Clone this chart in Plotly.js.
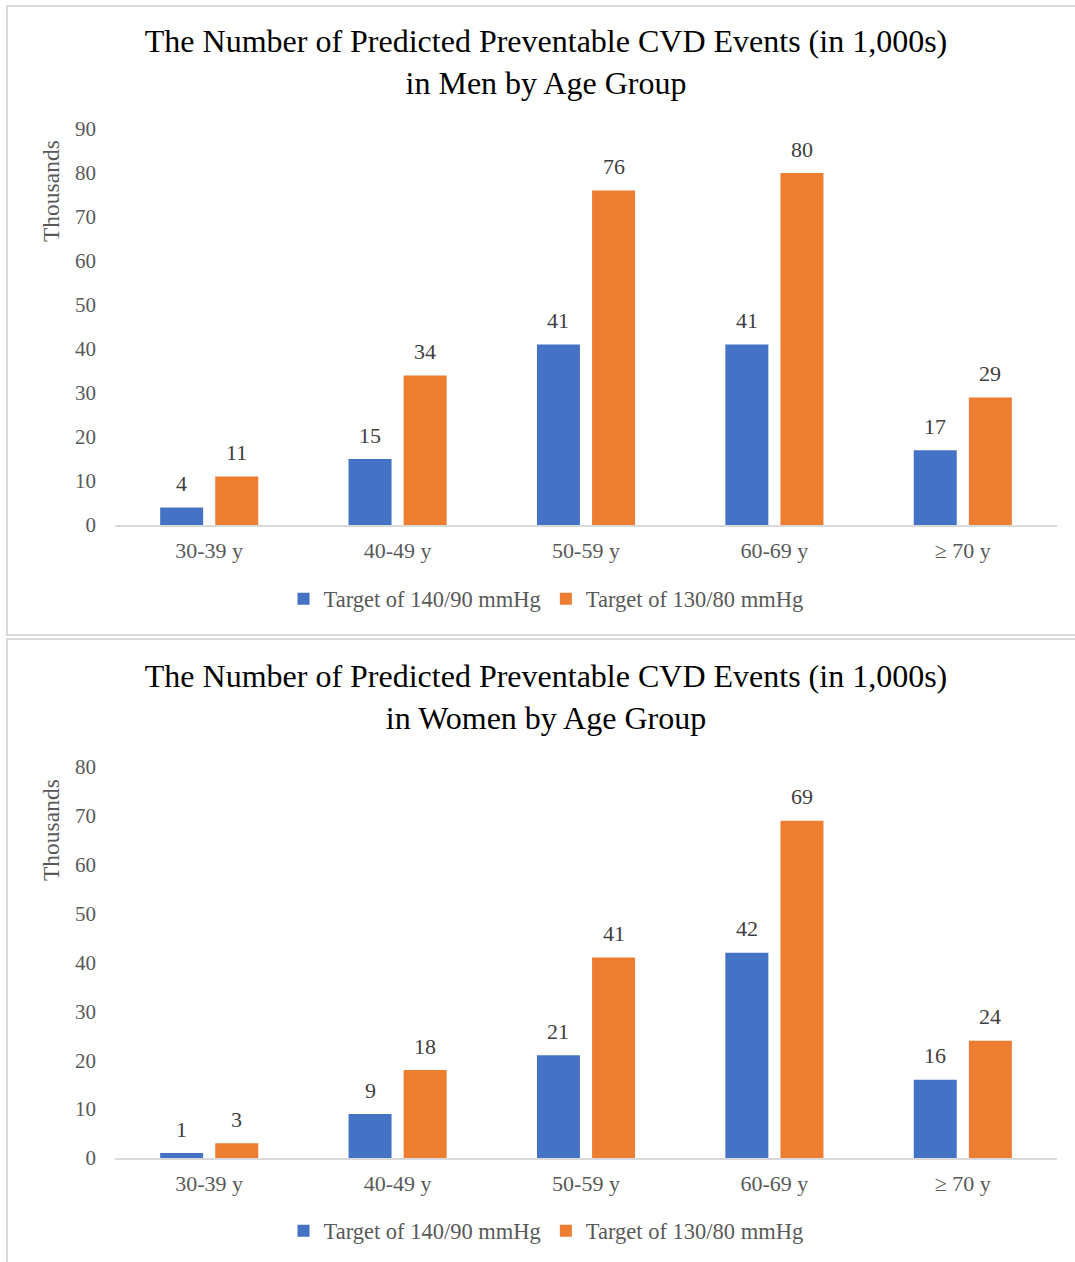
<!DOCTYPE html>
<html>
<head>
<meta charset="utf-8">
<script src="https://cdn.plot.ly/plotly-3.0.1.min.js"></script>
<style>
  html, body { margin: 0; padding: 0; background: #ffffff; overflow: hidden; }
  body { width: 1075px; height: 1262px; position: relative; }
  .panel { position: absolute; left: 6px; width: 1076px; height: 627px; border: 2px solid #d9d9d9; background: #fff; }
  #men { top: 5px; }
  #women { top: 638px; }
</style>
</head>
<body>
<div id="men" class="panel"></div>
<div id="women" class="panel"></div>
<script>
// Age groups on the x axis
const ageGroups = ['30-39 y', '40-49 y', '50-59 y', '60-69 y', '\u2265 70 y'];
const seriesNames = ['Target of 140/90 mmHg', 'Target of 130/80 mmHg'];

// Predicted preventable CVD events, thousands
const menTarget140 = [4, 15, 41, 41, 17];
const menTarget130 = [11, 34, 76, 80, 29];
const womenTarget140 = [1, 9, 21, 42, 16];
const womenTarget130 = [3, 18, 41, 69, 24];

// Axis ticks
const menTicks = [0, 10, 20, 30, 40, 50, 60, 70, 80, 90];
const womenTicks = [0, 10, 20, 30, 40, 50, 60, 70, 80];

const FONT = '"Liberation Serif", "Times New Roman", Times, serif';
const BLUE = '#4472C4';
const ORANGE = '#ED7D31';
const GREY = '#595959';
const BARGAP = 0.415;
const GROUPGAP = 0.22;

function drawPanel(id, title, blueVals, orangeVals, ticks, yMax, geo) {
  const W = 1076, H = 627;
  const m = geo.margin;
  const plotW = W - m.l - m.r;
  const plotH = H - m.t - m.b;
  const px2x = px => (px - m.l) / plotW;
  const py2y = py => (H - m.b - py) / plotH;

  const traces = [
    { type: 'bar', name: seriesNames[0], x: ageGroups, y: blueVals,
      marker: { color: BLUE, line: { width: 0 } }, hoverinfo: 'skip' },
    { type: 'bar', name: seriesNames[1], x: ageGroups, y: orangeVals,
      marker: { color: ORANGE, line: { width: 0 } }, hoverinfo: 'skip' }
  ];

  // value labels above each bar, offset to the bar's slot within its group
  const slot = (1 - BARGAP) / 2;
  const annotations = [];
  [blueVals, orangeVals].forEach((vals, s) => {
    const off = (s === 0 ? -1 : 1) * slot / 2;
    vals.forEach((v, i) => {
      annotations.push({
        x: i + off, y: v, xref: 'x', yref: 'y',
        text: String(v), showarrow: false,
        yanchor: 'middle', yshift: 24,
        font: { family: FONT, size: 22, color: '#404040' }
      });
    });
  });
  annotations.push({
    x: px2x(geo.unitX), y: py2y(geo.unitY), xref: 'paper', yref: 'paper',
    text: 'Thousands', textangle: -90, showarrow: false,
    xanchor: 'center', yanchor: 'middle',
    font: { family: FONT, size: 23.5, color: GREY }
  });

  const layout = {
    width: W, height: H,
    margin: m,
    paper_bgcolor: '#ffffff', plot_bgcolor: '#ffffff',
    font: { family: FONT, color: GREY },
    barmode: 'group', bargap: BARGAP, bargroupgap: GROUPGAP,
    title: {
      text: title, xref: 'container', x: 0.5, xanchor: 'center',
      yref: 'container', y: 1 - geo.titleY / H, yanchor: 'middle',
      font: { family: FONT, size: 32, color: '#000000' }
    },
    xaxis: {
      type: 'category', showgrid: false, zeroline: false,
      showline: true, linecolor: '#d9d9d9', linewidth: 2,
      ticks: '', ticklabelstandoff: 5,
      tickfont: { family: FONT, size: 22, color: GREY },
      fixedrange: true
    },
    yaxis: {
      range: [0, yMax], tickvals: ticks, ticktext: ticks.map(String),
      showgrid: false, zeroline: false, showline: false,
      ticks: '', ticklabelstandoff: 18,
      tickfont: { family: FONT, size: 21, color: GREY },
      fixedrange: true
    },
    showlegend: true,
    legend: {
      orientation: 'h', xref: 'container', x: 0.5, xanchor: 'center',
      yref: 'container', y: 1 - geo.legendY / H, yanchor: 'middle',
      font: { family: FONT, size: 22.5, color: GREY },
      itemclick: false, itemdoubleclick: false
    },
    annotations: annotations
  };
  Plotly.newPlot(id, traces, layout, { staticPlot: true, displayModeBar: false });
}

drawPanel('men',
  'The Number of Predicted Preventable CVD Events (in 1,000s)<br>in Men by Age Group',
  menTarget140, menTarget130, menTicks, 90,
  { margin: { l: 107, r: 27, t: 122, b: 109 }, titleY: 45, legendY: 592, unitX: 43, unitY: 184 });

drawPanel('women',
  'The Number of Predicted Preventable CVD Events (in 1,000s)<br>in Women by Age Group',
  womenTarget140, womenTarget130, womenTicks, 80,
  { margin: { l: 107, r: 27, t: 127, b: 109 }, titleY: 47, legendY: 591, unitX: 43, unitY: 190 });
</script>
</body>
</html>
